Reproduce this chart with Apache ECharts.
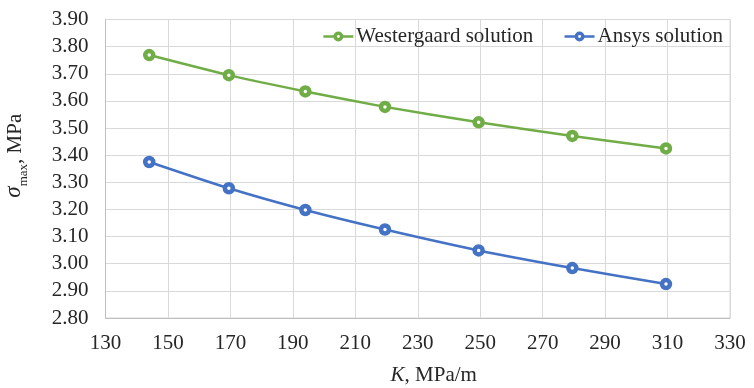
<!DOCTYPE html>
<html>
<head>
<meta charset="utf-8">
<script src="https://cdn.jsdelivr.net/npm/echarts@6/dist/echarts.min.js"></script>
<style>
  html, body { margin: 0; padding: 0; background: #fff; }
  #chart { width: 754px; height: 388px; }
</style>
</head>
<body>
<div id="chart"></div>
<script>
// Subgrade modulus K (MPa/m) and maximum stress (MPa)
const kValues = [144, 169.5, 194, 219.5, 249.5, 279.5, 309.5];
const westergaard = [3.769, 3.695, 3.635, 3.578, 3.521, 3.471, 3.425];
const ansys = [3.375, 3.278, 3.198, 3.126, 3.049, 2.984, 2.925];
const seriesNames = ['Westergaard solution', 'Ansys solution'];
const xTicks = { min: 130, max: 330, interval: 20 };
const yTicks = { min: 2.8, max: 3.9, interval: 0.1 };

const FONT = 'Liberation Serif';
const FS = 21;
const TEXT = '#262626';
const GRID = '#d9d9d9';

function pairs(xs, ys) { return xs.map((x, i) => [x, ys[i]]); }

function lineSeries(name, values, color) {
  return {
    name: name,
    type: 'line',
    data: pairs(kValues, values),
    smooth: 0.2,
    symbol: 'circle',
    symbolSize: 8,
    lineStyle: { color: color, width: 2.5 },
    itemStyle: { color: '#fff', borderColor: color, borderWidth: 4.5 },
    emphasis: { disabled: true }
  };
}

const chart = echarts.init(document.getElementById('chart'), null, { renderer: 'canvas' });
chart.setOption({
  animation: false,
  backgroundColor: '#fff',
  textStyle: { fontFamily: FONT, color: TEXT },
  grid: {
    left: 105.5, right: 24, top: 19.5, bottom: 70,
    outerBoundsMode: 'none', containLabel: false,
    show: true, borderColor: GRID, borderWidth: 1
  },
  legend: {
    top: 21,
    right: 26,
    itemWidth: 30,
    itemHeight: 8,
    itemGap: 30,
    itemStyle: { borderWidth: 3.5 },
    lineStyle: { width: 2.5 },
    textStyle: { fontFamily: FONT, fontSize: FS, color: TEXT, padding: [0, 0, 0, -2] },
    data: seriesNames
  },
  xAxis: {
    type: 'value',
    min: xTicks.min, max: xTicks.max, interval: xTicks.interval,
    axisLine: { show: true, lineStyle: { color: '#bfbfbf' } },
    axisTick: { show: false },
    axisLabel: { fontFamily: FONT, fontSize: FS, color: TEXT, margin: 15 },
    splitLine: { lineStyle: { color: GRID } },
    name: '{k|K}{t|, MPa/m}',
    nameLocation: 'middle',
    nameGap: 47,
    nameTextStyle: {
      padding: [0, 0, 0, 32],
      rich: {
        k: { fontFamily: FONT, fontSize: FS, fontStyle: 'italic', color: TEXT },
        t: { fontFamily: FONT, fontSize: FS, color: TEXT }
      }
    }
  },
  yAxis: {
    type: 'value',
    min: yTicks.min, max: yTicks.max, interval: yTicks.interval,
    axisLine: { show: true, lineStyle: { color: '#bfbfbf' } },
    axisTick: { show: false },
    axisLabel: { fontFamily: FONT, fontSize: FS, color: TEXT, margin: 17, formatter: v => v.toFixed(2) },
    splitLine: { lineStyle: { color: GRID } },
    name: '{s|σ}{sub|max}{t|, MPa}',
    nameLocation: 'middle',
    nameGap: 80,
    nameTextStyle: {
      padding: [0, 0, 0, 26],
      rich: {
        s: { fontFamily: FONT, fontSize: 23, fontStyle: 'italic', color: TEXT, lineHeight: 24, verticalAlign: 'bottom' },
        sub: { fontFamily: FONT, fontSize: 13, color: TEXT, lineHeight: 24, verticalAlign: 'bottom', padding: [0, 0, -5, 0] },
        t: { fontFamily: FONT, fontSize: FS, color: TEXT, lineHeight: 24, verticalAlign: 'bottom' }
      }
    }
  },
  series: [
    lineSeries(seriesNames[0], westergaard, '#70ad47'),
    lineSeries(seriesNames[1], ansys, '#4472c4')
  ]
});
</script>
</body>
</html>
